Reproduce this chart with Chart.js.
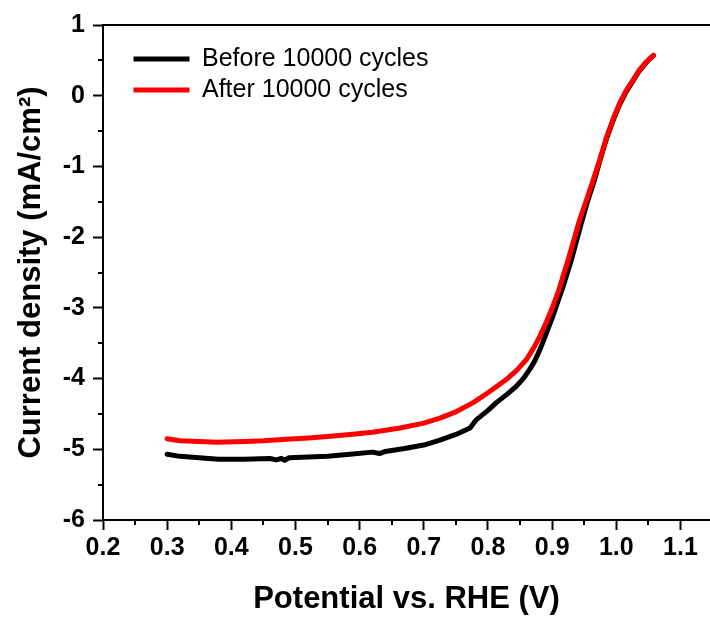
<!DOCTYPE html>
<html>
<head>
<meta charset="utf-8">
<title>LSV before / after cycling</title>
<script src="https://cdn.jsdelivr.net/npm/chart.js@4.4.1/dist/chart.umd.min.js"></script>
<style>
  html, body { margin: 0; padding: 0; background: #fff; }
  #wrap { width: 710px; height: 620px; }
</style>
</head>
<body>
<div id="wrap"><canvas id="lsvChart"></canvas></div>
<script>
// Curva antes de los 10000 ciclos (potencial en V, densidad en mA/cm2)
const beforeV = [0.300, 0.320, 0.350, 0.380, 0.420, 0.460, 0.470, 0.478, 0.483, 0.490, 0.520, 0.550,
  0.585, 0.620, 0.631, 0.640, 0.670, 0.700, 0.725, 0.750, 0.772, 0.782, 0.800, 0.813, 0.830,
  0.844, 0.855, 0.865, 0.873, 0.881, 0.890, 0.901, 0.910, 0.917, 0.930, 0.945, 0.955, 0.965,
  0.975, 0.985, 0.995, 1.005, 1.015, 1.026, 1.035, 1.045, 1.052, 1.058];
const beforeJ = [-5.07, -5.10, -5.12, -5.14, -5.14, -5.13, -5.15, -5.13, -5.155, -5.12, -5.11, -5.10,
  -5.07, -5.04, -5.06, -5.03, -4.99, -4.94, -4.87, -4.79, -4.70, -4.58, -4.45, -4.34, -4.22,
  -4.11, -4.00, -3.87, -3.75, -3.59, -3.38, -3.12, -2.88, -2.70, -2.32, -1.82, -1.50, -1.22,
  -0.90, -0.60, -0.35, -0.13, 0.05, 0.21, 0.34, 0.45, 0.52, 0.57];

// Curva despues de los 10000 ciclos
const afterV = [0.300, 0.320, 0.350, 0.378, 0.420, 0.450, 0.480, 0.520, 0.550, 0.585, 0.620, 0.663,
  0.700, 0.725, 0.750, 0.777, 0.800, 0.829, 0.845, 0.860, 0.871, 0.881, 0.891, 0.901, 0.910,
  0.917, 0.925, 0.943, 0.954, 0.964, 0.975, 0.985, 0.995, 1.005, 1.015, 1.026, 1.035, 1.045,
  1.052, 1.058];
const afterJ = [-4.85, -4.88, -4.89, -4.90, -4.89, -4.88, -4.86, -4.84, -4.82, -4.79, -4.76, -4.70,
  -4.63, -4.56, -4.47, -4.34, -4.20, -4.01, -3.88, -3.73, -3.57, -3.40, -3.20, -2.98, -2.76,
  -2.55, -2.32, -1.75, -1.46, -1.19, -0.88, -0.58, -0.33, -0.11, 0.07, 0.22, 0.35, 0.46,
  0.52, 0.57];

const seriesLabels = ['Before 10000 cycles', 'After 10000 cycles'];

// Marcas menores de los ejes
const xMinorTicks = [0.25, 0.35, 0.45, 0.55, 0.65, 0.75, 0.85, 0.95, 1.05];
const yMinorTicks = [-5.5, -4.5, -3.5, -2.5, -1.5, -0.5, 0.5];

const FONT = "'Liberation Sans', Arial, Helvetica, sans-serif";

function toPoints(xs, ys) {
    return xs.map((v, i) => ({ x: v, y: ys[i] }));
}

// Dibuja las marcas menores hacia fuera del area del grafico
const minorTicksPlugin = {
    id: 'minorTicks',
    afterDraw(chart) {
        const { ctx, chartArea } = chart;
        const x = chart.scales.x;
        const y = chart.scales.y;
        ctx.save();
        ctx.strokeStyle = '#000';
        ctx.lineWidth = 2;
        ctx.beginPath();
        xMinorTicks.forEach(v => {
            const px = Math.round(x.getPixelForValue(v));
            ctx.moveTo(px, chartArea.bottom);
            ctx.lineTo(px, chartArea.bottom + 5);
        });
        yMinorTicks.forEach(v => {
            const py = Math.round(y.getPixelForValue(v));
            ctx.moveTo(chartArea.left, py);
            ctx.lineTo(chartArea.left - 5, py);
        });
        ctx.stroke();
        ctx.restore();
    }
};

// Mueve la leyenda a la esquina superior izquierda dentro del grafico
const legendOffsetPlugin = {
    id: 'legendOffset',
    afterLayout(chart) {
        if (chart.legend) {
            chart.legend.left = chart.chartArea.left + 24.5;
            chart.legend.top = chart.chartArea.top + 15.5;
        }
    }
};

const ctx = document.getElementById('lsvChart').getContext('2d');
window.currentChart = new Chart(ctx, {
    type: 'scatter',
    data: {
        datasets: [{
            label: seriesLabels[0],
            data: toPoints(beforeV, beforeJ),
            borderColor: '#000000',
            backgroundColor: '#000000',
            borderWidth: 5,
            borderCapStyle: 'round',
            borderJoinStyle: 'round',
            showLine: true,
            pointRadius: 0,
            order: 1
        }, {
            label: seriesLabels[1],
            data: toPoints(afterV, afterJ),
            borderColor: '#ff0000',
            backgroundColor: '#ff0000',
            borderWidth: 5,
            borderCapStyle: 'round',
            borderJoinStyle: 'round',
            showLine: true,
            pointRadius: 0,
            order: 0
        }]
    },
    options: {
        responsive: true,
        maintainAspectRatio: false,
        animation: false,
        layout: { padding: 0 },
        plugins: {
            tooltip: { enabled: false },
            legend: {
                position: 'chartArea',
                align: 'start',
                labels: {
                    usePointStyle: true,
                    pointStyle: 'line',
                    pointStyleWidth: 56,
                    padding: 6,
                    color: '#000',
                    font: { family: FONT, size: 25 },
                    sort: (a, b) => a.datasetIndex - b.datasetIndex
                }
            }
        },
        scales: {
            x: {
                type: 'linear',
                position: 'bottom',
                min: 0.2,
                max: 1.146,
                afterFit: scale => { scale.height = 100; },
                ticks: {
                    stepSize: 0.1,
                    includeBounds: false,
                    color: '#000',
                    padding: 3,
                    maxRotation: 0,
                    font: { family: FONT, size: 25, weight: 'bold' },
                    callback: value => Number(value).toFixed(1)
                },
                grid: {
                    display: true,
                    drawOnChartArea: false,
                    drawTicks: true,
                    tickLength: 10,
                    tickWidth: 2,
                    tickColor: '#000'
                },
                border: { display: true, color: '#000', width: 2 },
                title: {
                    display: true,
                    text: 'Potential vs. RHE (V)',
                    color: '#000',
                    font: { family: FONT, size: 31, weight: 'bold' },
                    padding: { top: 0, bottom: 2 }
                }
            },
            xTop: {
                type: 'linear',
                position: 'top',
                min: 0.2,
                max: 1.146,
                afterFit: scale => { scale.height = 25; },
                ticks: { display: false },
                grid: { display: false, drawTicks: false },
                border: { display: true, color: '#000', width: 2 }
            },
            y: {
                type: 'linear',
                position: 'left',
                min: -6,
                max: 1,
                afterFit: scale => { scale.width = 103; },
                ticks: {
                    stepSize: 1,
                    color: '#000',
                    padding: 8,
                    font: { family: FONT, size: 25, weight: 'bold' },
                    callback: value => String(Math.round(value))
                },
                grid: {
                    display: true,
                    drawOnChartArea: false,
                    drawTicks: true,
                    tickLength: 10,
                    tickWidth: 2,
                    tickColor: '#000'
                },
                border: { display: true, color: '#000', width: 2 },
                title: {
                    display: true,
                    text: 'Current density (mA/cm²)',
                    color: '#000',
                    font: { family: FONT, size: 31, weight: 'bold' },
                    padding: { top: 13, bottom: 0 }
                }
            }
        }
    },
    plugins: [minorTicksPlugin, legendOffsetPlugin]
});
</script>
</body>
</html>
